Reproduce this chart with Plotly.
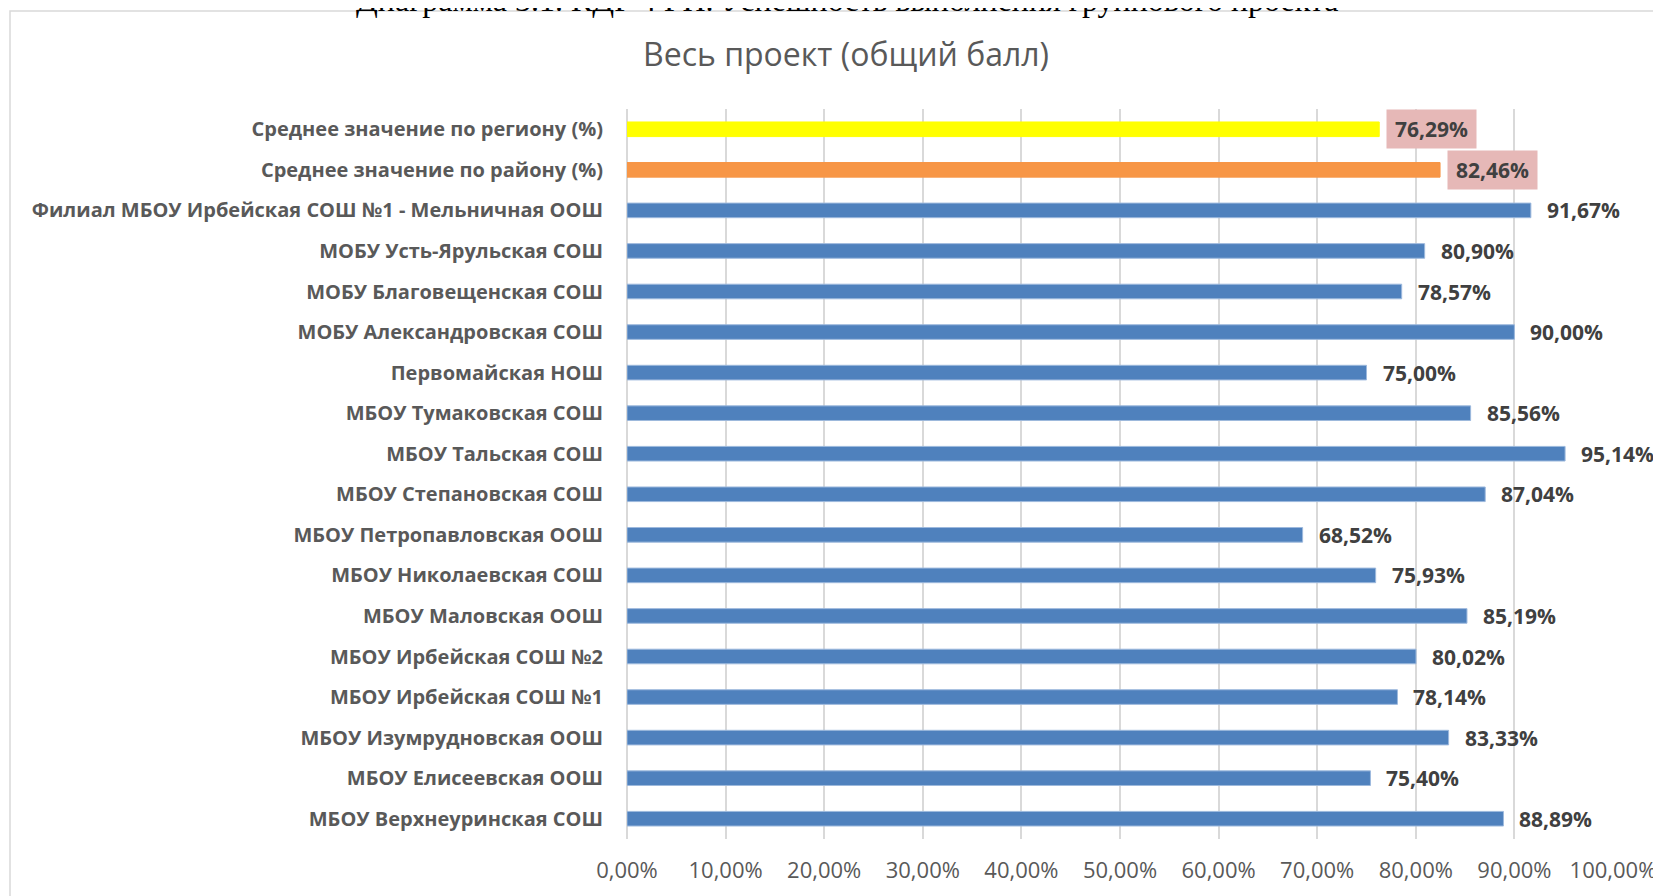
import plotly.graph_objects as go

categories = [
    "Среднее значение по региону (%)",
    "Среднее значение по району (%)",
    "Филиал МБОУ Ирбейская СОШ №1 - Мельничная ООШ",
    "МОБУ Усть-Ярульская СОШ",
    "МОБУ Благовещенская СОШ",
    "МОБУ Александровская СОШ",
    "Первомайская НОШ",
    "МБОУ Тумаковская СОШ",
    "МБОУ Тальская СОШ",
    "МБОУ Степановская СОШ",
    "МБОУ Петропавловская ООШ",
    "МБОУ Николаевская СОШ",
    "МБОУ Маловская ООШ",
    "МБОУ Ирбейская СОШ №2",
    "МБОУ Ирбейская СОШ №1",
    "МБОУ Изумрудновская ООШ",
    "МБОУ Елисеевская ООШ",
    "МБОУ Верхнеуринская СОШ",
]
values = [76.29, 82.46, 91.67, 80.90, 78.57, 90.00, 75.00, 85.56, 95.14,
          87.04, 68.52, 75.93, 85.19, 80.02, 78.14, 83.33, 75.40, 88.89]
bar_colors = ["#FFFF00", "#F79646"] + ["#4F81BD"] * 16
line_colors = ["#FFFF00", "#F79646"] + ["#9DB9DD"] * 16
highlight = [True, True] + [False] * 16

tick_vals = [0, 10, 20, 30, 40, 50, 60, 70, 80, 90, 100]
tick_text = [f"{v:.2f}%".replace(".", ",") for v in tick_vals]

chart_title = "Весь проект (общий балл)"
caption = "Диаграмма 3.1. КДР 4 ГП. Успешность выполнения группового проекта"

W, H = 1661, 896
OFF = 8  # page body margin
# page-pixel positions of the plot area
PL, PR, PT, PB = 627, 1613, 109, 839
ML = PL - OFF
MT = PT - OFF
MR = W - (PR - OFF)
MB = H - (PB - OFF)
PW = PR - PL
PH = PB - PT


def px_x(p):
    return (p - PL) / PW


def px_y(p):
    return (PB - p) / PH


fig = go.Figure()
fig.add_trace(go.Bar(
    x=values, y=categories, orientation="h",
    marker=dict(color=bar_colors, line=dict(color=line_colors, width=1)),
    width=0.36, hoverinfo="x+y",
))

annotations = []
for c, v, h in zip(categories, values, highlight):
    txt = f"{v:.2f}%".replace(".", ",")
    if h:
        annotations.append(dict(
            x=v, y=c, xref="x", yref="y", text=txt, showarrow=False,
            xanchor="left", yanchor="middle", xshift=7,
            bgcolor="#E6B8B7", borderpad=0, width=89, height=38,
            font=dict(family="Open Sans", size=21, color="#404040", weight="bold"),
        ))
    else:
        annotations.append(dict(
            x=v, y=c, xref="x", yref="y", text=txt, showarrow=False,
            xanchor="left", yanchor="middle", xshift=14,
            font=dict(family="Open Sans", size=21, color="#404040", weight="bold"),
        ))

annotations.append(dict(
    x=px_x(847), y=px_y(0), xref="paper", yref="paper", text=caption,
    showarrow=False, xanchor="center", yanchor="middle",
    font=dict(family="Liberation Serif", size=32, color="#000000"),
))

fig.update_layout(
    width=W, height=H,
    margin=dict(l=ML, r=MR, t=MT, b=MB, autoexpand=False),
    paper_bgcolor="white", plot_bgcolor="white",
    showlegend=False,
    title=dict(text=chart_title, x=(846 - OFF) / W, xref="container", xanchor="center",
               y=1 - (55 - OFF) / H, yref="container", yanchor="middle",
               font=dict(family="Open Sans", size=32, color="#595959")),
    xaxis=dict(range=[0, 100], tickvals=tick_vals, ticktext=tick_text,
               showgrid=True, gridcolor="#D9D9D9", gridwidth=1.5,
               zeroline=True, zerolinecolor="#D9D9D9", zerolinewidth=1.5,
               showline=False, ticks="", ticklabelstandoff=16,
               tickfont=dict(family="Open Sans", size=22, color="#595959")),
    yaxis=dict(autorange="reversed", showgrid=False, zeroline=False, showline=False,
               ticks="", ticklabelstandoff=23,
               tickfont=dict(family="Open Sans", size=20, color="#595959", weight="bold")),
    annotations=annotations,
    shapes=[dict(type="rect", xref="paper", yref="paper",
                 x0=px_x(10), x1=px_x(W + 40), y0=px_y(H + 40), y1=px_y(11),
                 line=dict(color="#D9D9D9", width=1.5), fillcolor="rgba(0,0,0,0)",
                 layer="below")],
)

fig.write_html("out.html")
